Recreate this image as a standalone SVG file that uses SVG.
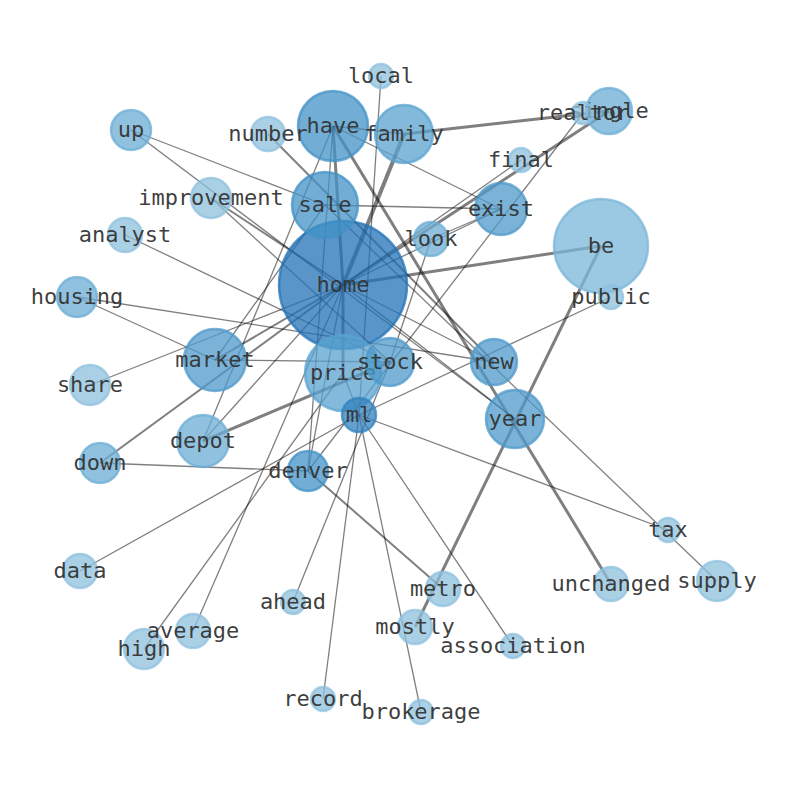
<svg xmlns="http://www.w3.org/2000/svg" width="794" height="790" viewBox="0 0 794 790">
<style>
.e{stroke:#000;stroke-opacity:0.5;stroke-width:1.3;fill:none}
.m{stroke-width:2}
.t{stroke-width:3}
circle{stroke-width:2.5;fill-opacity:0.75;stroke-opacity:0.75}
.c1{fill:#2171b5;stroke:#2171b5}
.c2{fill:#3182bd;stroke:#3182bd}
.c3{fill:#4292c6;stroke:#4292c6}
.c4{fill:#4d9ac9;stroke:#4d9ac9}
.c5{fill:#5aa3d0;stroke:#5aa3d0}
.c6{fill:#6baed6;stroke:#6baed6}
.c7{fill:#8ec0de;stroke:#8ec0de}
text{font-family:"DejaVu Sans Mono","Liberation Mono",monospace;font-size:22px;fill:#333;text-anchor:middle;fill-opacity:0.95}
</style>
<rect width="794" height="790" fill="#fff"/>
<g id="edges">
<line class="e t" x1="333" y1="126" x2="343" y2="285"/>
<line class="e t" x1="343" y1="285" x2="343" y2="373"/>
<line class="e t" x1="404" y1="134" x2="343" y2="285" style="stroke-width:4"/>
<line class="e t" x1="404" y1="134" x2="609" y2="111"/>
<line class="e t" x1="343" y1="285" x2="601" y2="246"/>
<line class="e t" x1="343" y1="285" x2="609" y2="111"/>
<line class="e m" x1="343" y1="285" x2="215" y2="360"/>
<line class="e m" x1="343" y1="285" x2="100" y2="463"/>
<line class="e t" x1="203" y1="441" x2="390" y2="362"/>
<line class="e t" x1="601" y1="246" x2="415" y2="627"/>
<line class="e t" x1="333" y1="126" x2="611" y2="584"/>
<line class="e m" x1="268" y1="134" x2="494" y2="362"/>
<line class="e m" x1="308" y1="471" x2="443" y2="589"/>
<line class="e m" x1="211" y1="198" x2="343" y2="285"/>
<line class="e" x1="381" y1="76" x2="359" y2="415"/>
<line class="e" x1="131" y1="130" x2="325" y2="205"/>
<line class="e" x1="131" y1="130" x2="515" y2="419"/>
<line class="e" x1="211" y1="198" x2="390" y2="362"/>
<line class="e" x1="125" y1="235" x2="390" y2="362"/>
<line class="e" x1="77" y1="297" x2="215" y2="360"/>
<line class="e" x1="77" y1="297" x2="494" y2="362"/>
<line class="e" x1="90" y1="385" x2="343" y2="285"/>
<line class="e" x1="215" y1="360" x2="390" y2="362"/>
<line class="e" x1="215" y1="360" x2="325" y2="205"/>
<line class="e" x1="203" y1="441" x2="333" y2="126"/>
<line class="e" x1="100" y1="463" x2="308" y2="471"/>
<line class="e" x1="80" y1="571" x2="359" y2="415"/>
<line class="e" x1="144" y1="649" x2="343" y2="373"/>
<line class="e" x1="193" y1="631" x2="343" y2="285"/>
<line class="e" x1="293" y1="602" x2="390" y2="362"/>
<line class="e" x1="323" y1="699" x2="359" y2="415"/>
<line class="e" x1="421" y1="712" x2="359" y2="415"/>
<line class="e" x1="513" y1="646" x2="359" y2="415"/>
<line class="e" x1="668" y1="530" x2="359" y2="415"/>
<line class="e" x1="325" y1="205" x2="717" y2="581"/>
<line class="e" x1="359" y1="415" x2="611" y2="297"/>
<line class="e" x1="431" y1="239" x2="501" y2="209"/>
<line class="e" x1="431" y1="239" x2="390" y2="362"/>
<line class="e" x1="583" y1="113" x2="308" y2="471"/>
<line class="e" x1="333" y1="126" x2="501" y2="209"/>
<line class="e" x1="325" y1="205" x2="501" y2="209"/>
<line class="e" x1="333" y1="126" x2="404" y2="134"/>
<line class="e" x1="521" y1="160" x2="343" y2="285"/>
<line class="e" x1="501" y1="209" x2="343" y2="285"/>
<line class="e" x1="343" y1="285" x2="494" y2="362"/>
<line class="e" x1="308" y1="471" x2="343" y2="285"/>
<line class="e" x1="308" y1="471" x2="333" y2="126"/>
<line class="e" x1="343" y1="373" x2="359" y2="415"/>
<line class="e" x1="343" y1="285" x2="203" y2="441"/>
<line class="e" x1="343" y1="285" x2="515" y2="419"/>
</g>
<g id="node-home"><circle class="c1" cx="343" cy="285" r="64"/><text x="343" y="292">home</text></g>
<g id="node-be"><circle class="c7" cx="601" cy="246" r="47" style="fill:#7ab6da;stroke:#7ab6da"/><text x="601" y="253">be</text></g>
<g id="node-price"><circle class="c5" cx="343" cy="373" r="38"/><text x="343" y="380">price</text></g>
<g id="node-have"><circle class="c3" cx="333" cy="126" r="35"/><text x="333" y="133">have</text></g>
<g id="node-sale"><circle class="c3" cx="325" cy="205" r="33"/><text x="325" y="212">sale</text></g>
<g id="node-market"><circle class="c4" cx="215" cy="360" r="31"/><text x="215" y="367">market</text></g>
<g id="node-family"><circle class="c5" cx="404" cy="134" r="29"/><text x="404" y="141">family</text></g>
<g id="node-year"><circle class="c4" cx="515" cy="419" r="29"/><text x="515" y="426">year</text></g>
<g id="node-depot"><circle class="c6" cx="203" cy="441" r="26"/><text x="203" y="448">depot</text></g>
<g id="node-exist"><circle class="c4" cx="501" cy="209" r="26"/><text x="501" y="216">exist</text></g>
<g id="node-stock"><circle class="c4" cx="390" cy="362" r="24"/><text x="390" y="369">stock</text></g>
<g id="node-new"><circle class="c4" cx="494" cy="362" r="23"/><text x="494" y="369">new</text></g>
<g id="node-single"><circle class="c6" cx="609" cy="111" r="23"/><text x="609" y="118">single</text></g>
<g id="node-denver"><circle class="c3" cx="308" cy="471" r="20"/><text x="308" y="478">denver</text></g>
<g id="node-down"><circle class="c6" cx="100" cy="463" r="20"/><text x="100" y="470">down</text></g>
<g id="node-up"><circle class="c6" cx="131" cy="130" r="20"/><text x="131" y="137">up</text></g>
<g id="node-housing"><circle class="c6" cx="77" cy="297" r="20"/><text x="77" y="304">housing</text></g>
<g id="node-improvement"><circle class="c7" cx="211" cy="198" r="20"/><text x="211" y="205">improvement</text></g>
<g id="node-share"><circle class="c7" cx="90" cy="385" r="20"/><text x="90" y="392">share</text></g>
<g id="node-high"><circle class="c7" cx="144" cy="649" r="20"/><text x="144" y="656">high</text></g>
<g id="node-supply"><circle class="c7" cx="717" cy="581" r="20"/><text x="717" y="588">supply</text></g>
<g id="node-ml"><circle class="c2" cx="359" cy="415" r="17"/><text x="359" y="422">ml</text></g>
<g id="node-look"><circle class="c6" cx="431" cy="239" r="17"/><text x="431" y="246">look</text></g>
<g id="node-number"><circle class="c7" cx="268" cy="134" r="17"/><text x="268" y="141">number</text></g>
<g id="node-analyst"><circle class="c7" cx="125" cy="235" r="17"/><text x="125" y="242">analyst</text></g>
<g id="node-data"><circle class="c7" cx="80" cy="571" r="17"/><text x="80" y="578">data</text></g>
<g id="node-average"><circle class="c7" cx="193" cy="631" r="17"/><text x="193" y="638">average</text></g>
<g id="node-mostly"><circle class="c7" cx="415" cy="627" r="17"/><text x="415" y="634">mostly</text></g>
<g id="node-metro"><circle class="c7" cx="443" cy="589" r="17"/><text x="443" y="596">metro</text></g>
<g id="node-unchanged"><circle class="c7" cx="611" cy="584" r="17"/><text x="611" y="591">unchanged</text></g>
<g id="node-realtor"><circle class="c7" cx="583" cy="113" r="11"/><text x="583" y="120">realtor</text></g>
<g id="node-final"><circle class="c7" cx="521" cy="160" r="12"/><text x="521" y="167">final</text></g>
<g id="node-public"><circle class="c7" cx="611" cy="297" r="12"/><text x="611" y="304">public</text></g>
<g id="node-local"><circle class="c7" cx="381" cy="76" r="12"/><text x="381" y="83">local</text></g>
<g id="node-ahead"><circle class="c7" cx="293" cy="602" r="12"/><text x="293" y="609">ahead</text></g>
<g id="node-record"><circle class="c7" cx="323" cy="699" r="12"/><text x="323" y="706">record</text></g>
<g id="node-brokerage"><circle class="c7" cx="421" cy="712" r="12"/><text x="421" y="719">brokerage</text></g>
<g id="node-association"><circle class="c7" cx="513" cy="646" r="12"/><text x="513" y="653">association</text></g>
<g id="node-tax"><circle class="c7" cx="668" cy="530" r="12"/><text x="668" y="537">tax</text></g>
</svg>
